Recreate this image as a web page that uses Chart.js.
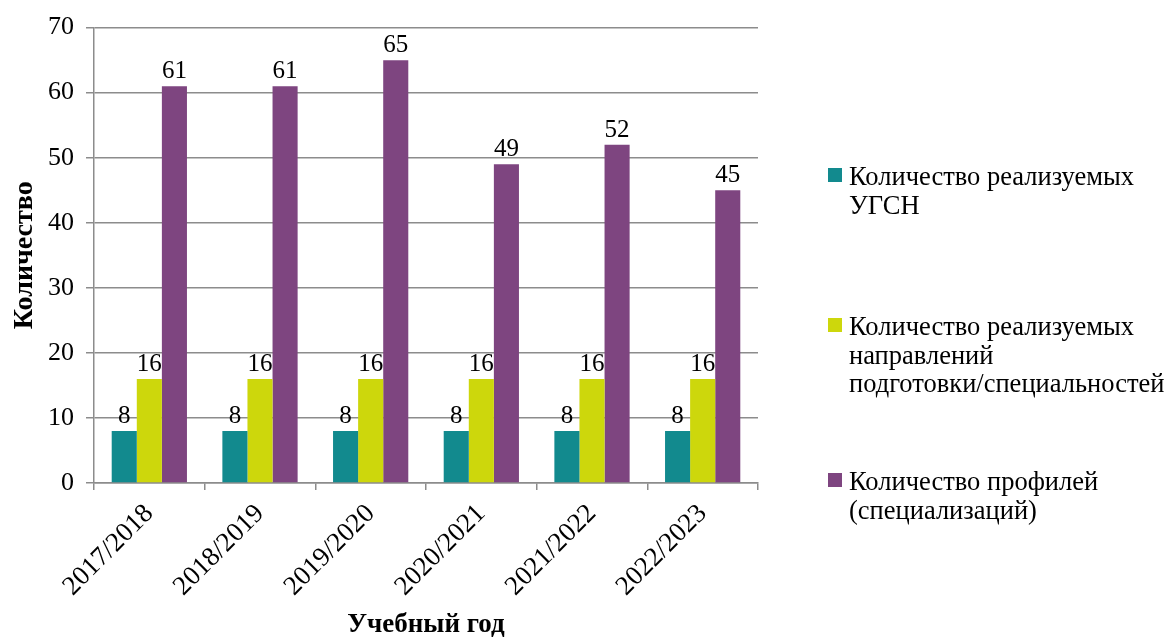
<!DOCTYPE html>
<html>
<head>
<meta charset="utf-8">
<script src="https://cdn.jsdelivr.net/npm/chart.js@4"></script>
<style>
  html, body { margin: 0; padding: 0; background: #fff; }
  #wrap { width: 1165px; height: 637px; }
</style>
</head>
<body>
<div id="wrap"><canvas id="chart" width="1165" height="637"></canvas></div>
<script>
// данные
const years = ['2017/2018', '2018/2019', '2019/2020', '2020/2021', '2021/2022', '2022/2023'];
const ugsn = [8, 8, 8, 8, 8, 8];
const napr = [16, 16, 16, 16, 16, 16];
const profili = [61, 61, 65, 49, 52, 45];
const yTicks = [0, 10, 20, 30, 40, 50, 60, 70];

const seriesNames = [
    ['Количество реализуемых', 'УГСН'],
    ['Количество реализуемых', 'направлений', 'подготовки/специальностей'],
    ['Количество профилей', '(специализаций)']
];
const colors = ['#128A8E', '#CDD70C', '#7E4580'];

const FONT = "'Liberation Serif', 'Times New Roman', serif";
const GRID = '#8C8C8C';

// подписи значений над столбцами
const valueLabels = {
    id: 'valueLabels',
    afterDatasetsDraw(chart) {
        const ctx = chart.ctx;
        ctx.save();
        ctx.font = '25px ' + FONT;
        ctx.fillStyle = '#000';
        ctx.textAlign = 'center';
        ctx.textBaseline = 'alphabetic';
        chart.data.datasets.forEach((ds, i) => {
            chart.getDatasetMeta(i).data.forEach((bar, j) => {
                ctx.fillText(String(ds.data[j]), bar.x, bar.y - 8);
            });
        });
        ctx.restore();
    }
};

// легенда справа, многострочная
const sideLegend = {
    id: 'sideLegend',
    afterDraw(chart) {
        const ctx = chart.ctx;
        const baselines = [185, 335, 490];
        ctx.save();
        ctx.font = '26.5px ' + FONT;
        ctx.textBaseline = 'alphabetic';
        ctx.textAlign = 'left';
        seriesNames.forEach((lines, i) => {
            const b = baselines[i];
            ctx.fillStyle = colors[i];
            ctx.fillRect(828, b - 17, 14, 14);
            ctx.fillStyle = '#000';
            lines.forEach((t, k) => {
                ctx.fillText(t, 849, b + k * 28.5);
            });
        });
        ctx.restore();
    }
};

new Chart(document.getElementById('chart'), {
    type: 'bar',
    data: {
        labels: years,
        datasets: [
            { label: seriesNames[0].join(' '), data: ugsn, backgroundColor: colors[0] },
            { label: seriesNames[1].join(' '), data: napr, backgroundColor: colors[1] },
            { label: seriesNames[2].join(' '), data: profili, backgroundColor: colors[2] }
        ]
    },
    options: {
        responsive: false,
        animation: false,
        layout: { padding: { left: 0, right: 407, top: 26, bottom: 0 } },
        datasets: { bar: { barPercentage: 1, categoryPercentage: 0.68 } },
        plugins: {
            legend: { display: false },
            tooltip: { enabled: false }
        },
        scales: {
            x: {
                grid: { display: true, drawOnChartArea: false, drawTicks: true, tickLength: 7, offset: true, color: GRID, lineWidth: 1.5 },
                border: { display: true, color: GRID, width: 1.5 },
                ticks: { color: '#000', font: { family: FONT, size: 27 }, minRotation: 45, maxRotation: 45, padding: 8, labelOffset: 0 },
                title: { display: true, text: 'Учебный год', color: '#000', font: { family: FONT, size: 27, weight: 'bold', lineHeight: 0.9 }, padding: { top: 0, bottom: 0 } },
                afterFit(scale) { scale.height = 154; }
            },
            y: {
                min: 0,
                max: 70,
                afterBuildTicks(scale) { scale.ticks = yTicks.map(v => ({ value: v })); },
                grid: { color: GRID, lineWidth: 1.5, tickLength: 8 },
                border: { display: true, color: GRID, width: 1.5 },
                ticks: { color: '#000', font: { family: FONT, size: 26 }, padding: 12 },
                title: { display: true, text: 'Количество', color: '#000', font: { family: FONT, size: 28, weight: 'bold' }, padding: { top: 8, bottom: 0 } },
                afterFit(scale) { scale.width = 94; }
            }
        }
    },
    plugins: [valueLabels, sideLegend]
});
</script>
</body>
</html>
